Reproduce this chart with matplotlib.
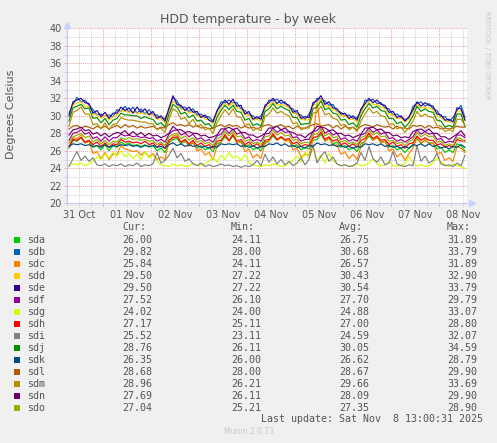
import numpy as np
import matplotlib
matplotlib.use("Agg")
import matplotlib.pyplot as plt
from matplotlib.patches import Rectangle

# time axis: days since 31 Oct 00:00, one sample every 2 hours from 31 Oct 07:00
t0 = 7.0 / 24
step = 2.0 / 24

names = ["sda", "sdb", "sdc", "sdd", "sde", "sdf", "sdg", "sdh",
         "sdi", "sdj", "sdk", "sdl", "sdm", "sdn", "sdo"]
colors = ["#00CC00", "#0066B3", "#FF8000", "#FFCC00", "#330099", "#990099",
          "#CCFF00", "#FF0000", "#808080", "#008F00", "#00487D", "#B35A00",
          "#B38F00", "#6B006B", "#8FB300"]

cur_vals = [26.00, 29.82, 25.84, 29.50, 29.50, 27.52, 24.02, 27.17, 25.52, 28.76, 26.35, 28.68, 28.96, 27.69, 27.04]
min_vals = [24.11, 28.00, 24.11, 27.22, 27.22, 26.10, 24.00, 25.11, 23.11, 26.11, 26.00, 28.00, 26.21, 26.11, 25.21]
avg_vals = [26.75, 30.68, 26.57, 30.43, 30.54, 27.70, 24.88, 27.00, 24.59, 30.05, 26.62, 28.67, 29.66, 28.09, 27.35]
max_vals = [31.89, 33.79, 31.89, 32.90, 33.79, 29.79, 33.07, 28.80, 32.07, 34.59, 28.79, 29.90, 33.69, 29.90, 28.90]

day_labels = ["31 Oct", "01 Nov", "02 Nov", "03 Nov", "04 Nov", "05 Nov", "06 Nov", "07 Nov", "08 Nov"]

sda = [26.3,27.2,27.1,27.5,26.9,27.1,26.4,26.6,26.1,26.7,26.0,26.6,
       26.4,27.0,26.7,26.9,26.6,26.7,26.5,26.7,26.4,26.6,26.0,26.3,
       25.8,26.9,27.3,27.4,26.8,27.1,26.6,26.9,26.3,26.6,26.1,26.4,
       25.9,26.8,27.0,27.6,27.1,27.7,26.9,27.1,26.4,26.7,26.1,26.4,
       26.0,27.0,27.1,27.7,27.2,27.5,27.2,27.2,26.5,26.7,26.1,26.4,
       26.2,27.2,27.3,27.9,27.1,27.4,26.8,27.0,26.4,26.6,26.1,26.4,
       25.9,26.8,27.1,27.7,27.2,27.5,27.0,27.1,26.4,26.6,26.1,26.3,
       25.8,26.3,26.6,27.4,26.9,27.2,26.9,26.9,26.2,26.4,25.8,26.1,
       25.8,26.8,26.6,26.0]
sdb = [30.3,31.3,32.1,31.6,31.8,31.2,30.7,30.1,30.2,30.0,30.1,29.9,
       30.7,30.5,31.1,30.4,31.0,30.3,30.8,30.2,30.7,30.1,30.1,29.7,
       29.7,30.6,32.1,31.7,30.9,31.0,30.5,30.8,30.1,30.2,29.8,29.9,
       29.4,30.5,31.6,31.5,31.8,31.5,31.5,30.8,30.6,30.1,30.0,29.6,
       30.0,30.9,31.8,31.7,31.9,31.4,31.6,30.9,30.8,30.2,30.1,29.6,
       30.2,31.2,32.0,31.9,31.7,31.2,31.3,30.5,30.4,30.0,30.1,29.7,
       29.8,30.4,31.8,31.7,31.9,31.4,31.5,30.9,30.8,30.1,30.2,29.8,
       29.6,29.7,31.1,31.4,31.6,31.1,31.4,30.8,30.6,29.9,29.9,29.4,
       29.8,30.6,31.2,29.8]
sdc = [26.4,27.5,27.4,27.8,26.9,27.1,25.7,25.9,25.1,25.8,25.0,25.6,
       25.6,26.6,26.2,26.1,25.9,26.0,25.5,25.9,25.3,25.7,25.0,25.3,
       25.0,27.1,27.7,27.8,26.9,27.3,26.5,27.1,26.0,26.2,25.5,25.8,
       25.0,26.5,27.0,27.9,27.1,28.0,26.9,27.0,25.9,26.2,25.2,25.6,
       25.1,26.8,27.1,28.0,27.2,27.6,27.1,27.2,26.1,26.3,25.3,25.6,
       25.5,27.3,31.5,28.2,27.1,27.5,26.6,26.7,25.6,25.9,25.1,25.6,
       25.0,26.5,27.1,28.0,27.2,27.6,26.9,27.1,26.0,26.2,25.3,25.7,
       24.9,25.7,26.3,27.6,26.8,27.3,26.8,26.9,25.7,25.8,24.9,25.2,
       24.8,26.5,26.3,25.8]
sdd = [29.9,31.2,31.5,31.6,31.1,31.1,30.2,30.1,29.7,30.1,29.5,29.9,
       30.1,30.6,30.5,30.4,30.5,30.3,30.3,30.2,30.2,30.1,29.6,29.7,
       29.2,30.5,31.7,31.3,30.7,30.7,30.3,30.5,29.9,30.0,29.6,29.6,
       29.1,30.1,31.0,31.4,31.1,31.5,30.9,30.7,30.1,30.1,29.5,29.6,
       29.4,30.8,31.2,31.6,31.2,31.3,31.2,30.9,30.3,30.2,29.6,29.5,
       29.6,31.1,31.4,31.9,31.1,31.1,30.7,30.5,30.0,30.0,29.6,29.6,
       29.3,30.3,31.2,31.6,31.3,31.3,31.0,30.8,30.2,30.1,29.7,29.7,
       29.3,29.6,30.5,31.3,30.9,31.0,30.9,30.7,30.0,29.8,29.4,29.3,
       29.3,30.5,30.6,29.5]
sde = [30.0,31.6,31.8,32.0,31.5,31.4,30.3,30.6,29.9,30.4,29.7,30.3,
       30.3,31.0,30.6,30.9,30.3,31.0,30.4,30.8,30.1,30.5,29.7,30.0,
       29.4,30.9,32.3,31.3,31.2,30.6,31.0,30.4,30.5,29.8,30.1,29.5,
       29.3,30.6,31.2,31.8,31.3,31.9,31.1,31.2,30.2,30.5,29.6,29.9,
       29.6,31.2,31.5,32.0,31.4,31.8,31.4,31.2,30.4,30.6,29.7,29.9,
       29.8,31.5,31.7,32.3,31.3,31.6,30.9,30.8,30.2,30.3,29.7,30.0,
       29.5,30.8,31.4,32.0,31.5,31.8,31.3,31.2,30.4,30.5,29.8,30.0,
       29.4,29.9,30.7,31.6,31.1,31.5,31.2,31.1,30.2,30.1,29.5,29.6,
       29.3,30.9,30.8,29.5]
sdf = [27.2,28.0,28.1,28.4,27.9,28.1,27.4,27.6,27.1,27.6,27.1,27.5,
       27.5,27.9,27.7,27.8,27.6,27.7,27.5,27.6,27.4,27.5,27.1,27.3,
       27.0,27.9,28.3,28.4,27.8,28.0,27.6,27.9,27.3,27.5,27.1,27.3,
       27.0,27.7,27.9,28.5,28.0,28.5,27.9,28.1,27.4,27.6,27.1,27.3,
       27.1,27.9,28.0,28.6,28.1,28.4,28.1,28.2,27.5,27.6,27.1,27.3,
       27.3,28.2,28.3,28.8,28.0,28.3,27.8,28.0,27.3,27.5,27.1,27.3,
       27.1,27.8,28.0,28.6,28.1,28.4,27.9,28.1,27.4,27.5,27.1,27.3,
       27.0,27.3,27.6,28.4,27.9,28.2,27.9,28.0,27.3,27.4,26.9,27.1,
       27.0,27.8,27.8,27.5]
sdg = [24.3,24.5,24.4,24.6,24.3,24.5,24.8,25.3,25.0,25.6,25.2,25.8,
       25.4,26.0,25.3,25.7,25.1,25.6,25.0,25.9,25.2,25.5,24.8,24.4,
       24.3,24.2,24.5,24.3,24.4,24.2,24.3,24.6,24.3,24.4,24.5,24.8,
       25.3,24.7,25.5,25.0,25.8,25.2,25.4,24.9,25.6,24.6,24.4,24.3,
       24.2,24.4,24.3,24.5,24.4,24.2,24.3,24.6,24.9,25.4,24.7,25.9,
       25.2,26.3,24.8,25.5,24.6,25.7,24.9,24.5,24.3,24.4,24.2,24.3,
       24.5,24.3,24.4,24.6,25.1,24.5,24.3,24.4,24.8,24.3,24.2,24.4,
       24.5,25.4,24.6,24.3,24.4,24.2,24.3,24.6,25.2,24.7,24.4,24.2,
       24.5,24.3,24.2,24.0]
sdh = [26.5,27.3,27.2,27.5,27.0,27.2,26.7,27.0,26.5,26.9,26.4,26.8,
       26.7,27.3,27.0,27.1,26.9,27.0,26.8,27.1,26.7,26.9,26.4,26.8,
       26.3,27.2,27.5,27.6,27.0,27.3,26.8,27.2,26.6,26.9,26.5,26.7,
       26.3,27.1,27.2,27.8,27.2,27.8,27.1,27.3,26.7,27.0,26.5,26.8,
       26.4,27.2,27.3,27.9,27.3,27.6,27.3,27.4,26.8,27.0,26.5,26.7,
       26.6,27.5,27.6,28.1,27.3,27.6,27.1,27.3,26.7,26.9,26.5,26.8,
       26.4,27.2,27.4,28.0,27.4,27.7,27.2,27.3,26.7,27.0,26.5,26.7,
       26.3,26.8,26.9,27.7,27.2,27.5,27.2,27.2,26.7,26.8,26.4,26.6,
       26.4,27.3,27.1,27.2]
sdi = [24.2,25.1,25.9,24.9,25.4,24.8,25.2,24.4,24.3,24.5,24.2,24.4,
       24.3,24.5,24.2,24.4,24.3,24.6,24.2,24.4,24.3,24.5,25.8,24.6,
       24.9,25.5,26.3,25.2,25.7,24.8,25.1,24.5,24.3,24.6,24.2,24.4,
       24.2,24.3,24.5,24.3,24.4,24.2,24.3,24.1,24.3,24.2,24.4,24.9,
       24.3,25.6,24.7,25.3,24.5,25.0,24.4,24.8,24.3,24.6,25.2,24.4,
       25.0,26.7,24.6,25.4,25.9,24.8,25.3,24.5,24.3,24.4,24.2,24.3,
       24.6,25.8,24.9,26.5,25.1,24.7,25.3,24.4,24.6,25.9,24.5,24.3,
       24.2,24.4,24.3,26.6,24.8,25.4,24.6,24.9,25.7,24.5,24.3,24.4,
       24.2,24.6,24.3,25.5]
sdj = [29.4,30.9,31.1,31.3,30.8,30.9,29.7,29.8,29.2,29.7,29.0,29.5,
       29.7,30.3,30.1,30.1,30.0,30.0,29.7,29.9,29.7,29.6,29.0,29.2,
       28.7,30.2,31.3,31.0,30.2,30.4,29.8,30.1,29.4,29.5,29.0,29.1,
       28.5,29.8,30.6,31.2,30.7,31.2,30.5,30.4,29.5,29.7,28.9,29.1,
       28.8,30.5,30.8,31.4,30.8,31.1,30.8,30.6,29.8,29.8,29.0,29.1,
       29.1,30.8,31.0,31.7,30.7,30.9,30.3,30.2,29.5,29.6,29.0,29.2,
       28.7,30.0,30.8,31.4,30.9,31.1,30.6,30.5,29.7,29.7,29.1,29.3,
       28.7,29.2,30.0,31.1,30.5,30.8,30.5,30.4,29.5,29.4,28.7,28.9,
       28.7,30.2,30.2,28.8]
sdk = [26.5,26.8,26.7,26.8,26.6,26.7,26.5,26.6,26.4,26.7,26.4,26.6,
       26.5,26.7,26.6,26.7,26.5,26.6,26.4,26.6,26.5,26.6,26.4,26.5,
       26.3,26.7,26.9,26.6,26.8,26.5,26.7,26.5,26.6,26.4,26.5,26.3,
       26.5,26.4,26.8,26.7,26.8,26.7,26.8,26.5,26.6,26.4,26.6,26.3,
       26.5,26.5,26.8,26.7,26.9,26.6,26.8,26.5,26.6,26.4,26.5,26.3,
       26.6,26.5,26.9,26.7,26.8,26.6,26.7,26.5,26.6,26.4,26.5,26.3,
       26.5,26.4,26.8,26.7,26.8,26.6,26.8,26.5,26.6,26.4,26.5,26.3,
       26.5,26.3,26.7,26.6,26.8,26.5,26.8,26.5,26.6,26.3,26.5,26.2,
       26.5,26.4,26.7,26.4]
sdl = [28.5,28.8,28.9,28.6,28.8,28.7,28.5,28.8,28.6,28.8,28.5,28.7,
       28.9,28.6,29.0,28.7,28.9,28.6,28.8,28.6,28.7,28.8,28.5,28.7,
       28.6,29.0,29.2,28.9,29.0,28.8,29.0,28.7,28.9,28.6,28.7,28.5,
       28.6,28.8,29.0,28.7,29.0,28.8,28.9,28.6,28.8,28.6,28.7,28.5,
       28.7,28.9,29.0,28.7,28.8,29.0,28.7,28.8,28.5,28.8,28.6,28.6,
       28.8,29.0,29.1,28.8,28.9,29.0,28.6,28.9,28.5,28.8,28.6,28.7,
       28.4,28.8,29.0,28.9,28.7,29.0,28.8,28.7,28.8,28.5,28.8,28.6,
       28.6,28.5,28.9,28.8,28.9,28.6,28.9,28.6,28.7,28.5,28.6,28.5,
       28.6,28.8,28.7,28.7]
sdm = [28.8,30.4,30.6,31.0,30.2,30.2,29.0,29.1,28.5,29.2,28.4,29.0,
       29.1,29.8,29.6,29.5,29.5,29.4,29.3,29.3,29.1,29.1,28.4,28.6,
       28.1,29.6,30.8,30.5,29.6,29.8,29.1,29.6,28.8,29.0,28.4,28.6,
       28.0,29.2,30.0,30.7,30.1,30.8,29.9,29.8,28.9,29.1,28.3,28.6,
       28.3,29.9,30.2,30.9,30.3,30.5,30.2,30.0,29.1,29.2,28.4,28.6,
       28.6,30.3,30.4,31.1,30.1,30.3,29.7,29.6,28.9,29.0,28.4,28.7,
       28.2,29.4,30.2,30.9,30.3,30.5,30.0,29.9,29.0,29.1,28.5,28.7,
       28.1,28.7,29.4,30.5,29.9,30.2,29.9,29.8,28.9,28.8,28.2,28.4,
       28.2,29.6,29.6,28.9]
sdn = [27.8,28.4,28.5,28.7,28.3,28.4,27.9,28.1,27.7,28.0,27.6,27.9,
       28.1,28.0,28.3,27.8,28.2,27.8,28.1,27.7,28.0,27.7,27.8,27.5,
       27.7,28.0,28.8,28.4,28.4,28.1,28.2,28.0,28.0,27.7,27.8,27.5,
       27.6,27.8,28.5,28.5,28.7,28.4,28.6,28.1,28.1,27.8,27.8,27.5,
       27.7,28.0,28.6,28.6,28.8,28.4,28.6,28.2,28.1,27.8,27.8,27.5,
       27.9,28.2,28.8,28.7,28.6,28.3,28.4,28.0,28.0,27.7,27.8,27.5,
       27.7,27.9,28.6,28.6,28.7,28.4,28.5,28.1,28.1,27.7,27.8,27.5,
       27.6,27.5,28.2,28.4,28.5,28.2,28.5,28.0,28.0,27.6,27.6,27.3,
       27.6,27.9,28.3,27.7]
sdo = [26.9,27.6,27.8,28.0,27.5,27.7,27.0,27.3,26.8,27.2,26.7,27.1,
       27.0,27.5,27.3,27.5,27.3,27.4,27.2,27.3,27.1,27.2,26.7,27.0,
       26.6,27.6,27.9,28.0,27.4,27.7,27.2,27.5,27.0,27.2,26.8,27.0,
       26.6,27.4,27.6,28.2,27.7,28.2,27.6,27.7,27.1,27.3,26.8,27.0,
       26.7,27.6,27.7,28.3,27.8,28.1,27.7,27.8,27.2,27.3,26.8,27.0,
       26.9,27.9,27.9,28.5,27.7,28.0,27.5,27.6,27.0,27.2,26.8,27.0,
       26.7,27.5,27.7,28.3,27.8,28.1,27.6,27.7,27.1,27.2,26.8,27.0,
       26.6,27.1,27.3,28.1,27.6,27.9,27.6,27.7,27.0,27.1,26.6,26.8,
       26.6,27.5,27.4,27.0]

series = [sda, sdb, sdc, sdd, sde, sdf, sdg, sdh, sdi, sdj, sdk, sdl, sdm, sdn, sdo]

W, H = 497, 443
fig = plt.figure(figsize=(W / 100, H / 100), dpi=100)
fig.patch.set_facecolor("#F0F0F0")

# plot area in pixels: x 67..467, y 28..203
ax = fig.add_axes([67 / W, 1 - 203.3 / H, 400 / W, 175 / H])
ax.set_facecolor("white")

for vals, col in zip(series, colors):
    x = t0 + step * np.arange(len(vals))
    ax.plot(x, vals, color=col, lw=0.85)

ax.set_xlim(0.25, 8.5833)
ax.set_ylim(20, 40)

ax.set_yticks(np.arange(20, 41, 2))
ax.set_yticks(np.arange(21, 40, 2), minor=True)
ax.set_xticks(np.arange(1, 9))
ax.set_xticks(np.arange(0.25, 8.6, 0.25), minor=True)

dots = (0, (1, 1))
ax.grid(which="major", color="#F2A0A0", ls=dots, lw=0.7)
ax.grid(which="minor", color="#CFCFCF", ls=dots, lw=0.7)
ax.set_axisbelow(True)

for s in ["top", "right"]:
    ax.spines[s].set_visible(False)
for s in ["left", "bottom"]:
    ax.spines[s].set_color("#C8C8F0")
    ax.spines[s].set_linewidth(0.9)

ax.tick_params(which="both", labelbottom=False, length=2, width=0.6, color="#F2A0A0")
ax.tick_params(which="minor", color="#CFCFCF")
ax.tick_params(axis="y", which="major", labelsize=7, labelcolor="#555555", pad=2)

for d, lab in enumerate(day_labels):
    ax.text(d + 0.5, -0.04, lab, transform=ax.get_xaxis_transform(),
            ha="center", va="top", fontsize=7, color="#555555")

# axis arrows
ax.plot([0], [1.02], marker="^", ms=4, color="#C8D0FF", transform=ax.transAxes, clip_on=False)
ax.plot([1.012], [0], marker=">", ms=4, color="#C8D0FF", transform=ax.transAxes, clip_on=False)

fig.text(248.5 / W, 1 - 19 / H, "HDD temperature - by week", ha="center", va="center",
         fontsize=9, color="#555555")
fig.text(11 / W, 1 - 114 / H, "Degrees Celsius", rotation=90, ha="center", va="center",
         fontsize=8, color="#555555")
fig.text(487 / W, 1 - 55 / H, "RRDTOOL / TOBI OETIKER", rotation=-90, ha="center", va="center",
         fontsize=5, color="#C8C8C8")

# legend block
mono = "DejaVu Sans Mono"
tc = "#555555"
col_x = [122.3, 231, 339, 447]
for cx, hdr in zip(col_x, ["Cur:", "Min:", "Avg:", "Max:"]):
    fig.text(cx / W, 1 - 227.3 / H, hdr, family=mono, fontsize=7.2, color=tc, va="center")

for i, nm in enumerate(names):
    yc = 239.8 + 12 * i
    fig.add_artist(Rectangle((14 / W, 1 - (yc + 3) / H), 6 / W, 6 / H,
                             transform=fig.transFigure, facecolor=colors[i], edgecolor="none"))
    fig.text(26.7 / W, 1 - yc / H, nm, family=mono, fontsize=7.2, color=tc, va="center")
    for cx, v in zip(col_x, [cur_vals[i], min_vals[i], avg_vals[i], max_vals[i]]):
        fig.text(cx / W, 1 - yc / H, "%.2f" % v, family=mono, fontsize=7.2, color=tc, va="center")

fig.text(261 / W, 1 - 419.5 / H, "Last update: Sat Nov  8 13:00:31 2025", family=mono,
         fontsize=7.2, color=tc, va="center")
fig.text(248.5 / W, 1 - 432 / H, "Munin 2.0.73", ha="center", va="center",
         fontsize=5.5, color="#C8C8C8")

fig.savefig("out.png", dpi=100, facecolor=fig.get_facecolor())
